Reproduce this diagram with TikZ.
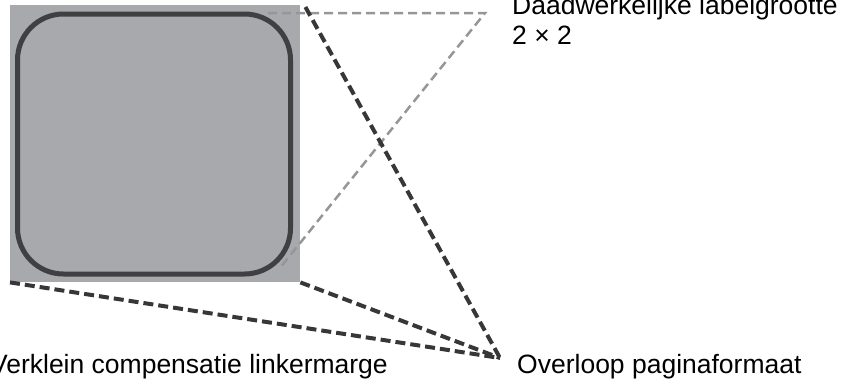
\documentclass[tikz,border=0pt]{standalone}
\usepackage{fontspec}
\setmainfont{Liberation Sans}
\usetikzlibrary{calc}
\definecolor{sheetgray}{RGB}{168,169,173}
\definecolor{labelline}{RGB}{64,64,66}
\definecolor{linedark}{RGB}{55,55,57}
\definecolor{linelight}{RGB}{150,150,152}

\begin{document}
\begin{tikzpicture}[x=1pt,y=-1pt,
    darkdash/.style={draw=linedark,line width=4pt,dash pattern=on 10pt off 5pt},
    lightdash/.style={draw=linelight,line width=2.5pt,dash pattern=on 9pt off 5pt},
    caption/.style={font=\fontsize{26.5}{30}\selectfont,inner sep=0pt}]
    \useasboundingbox (0,0) rectangle (842,383);
    % sheet with the label on it
    \node[fill=sheetgray,minimum width=290pt,minimum height=277pt,inner sep=0pt,anchor=north west] (sheet) at (10,5) {};
    \node[draw=labelline,line width=5pt,rounded corners=46pt,minimum width=273pt,minimum height=260pt,inner sep=0pt] (label) at (154,144) {};
    % texts
    \node[caption,anchor=north west,align=left] (size) at (512,-5.3) {Daadwerkelijke labelgrootte\\2 × 2};
    \node[caption,anchor=base west] (overrun) at (517,373) {Overloop paginaformaat};
    \node[caption,anchor=base east] (margin) at (388,373) {Verklein compensatie linkermarge};
    % lines
    \coordinate (tip) at (500,358);
    \coordinate (far) at (485,13);
    \coordinate (topcut) at (268,13);
    \coordinate (botcut) at (280,268);
    \draw[lightdash] (topcut) -- (far) -- (botcut);
    \draw[darkdash] ($(sheet.north east)+(5,2)$) -- (tip);
    \draw[darkdash] (sheet.south east) -- (tip);
    \draw[darkdash] (sheet.south west) -- (tip);
\end{tikzpicture}
\end{document}
